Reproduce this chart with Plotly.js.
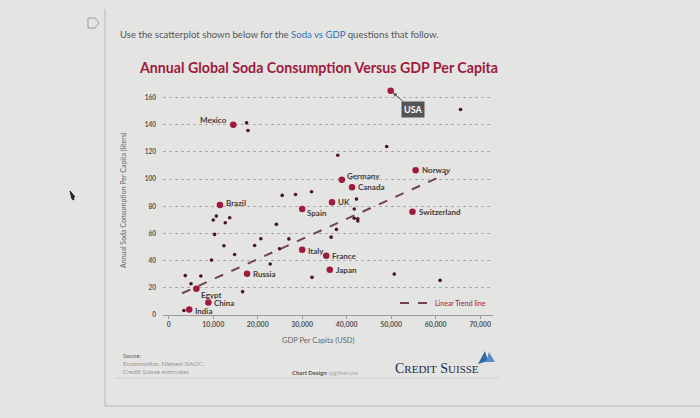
<!DOCTYPE html>
<html>
<head>
<meta charset="utf-8">
<script src="https://cdn.plot.ly/plotly-3.0.1.min.js"></script>
<style>
html,body{margin:0;padding:0;background:#e3e3e1;}
#chart{width:700px;height:418px;}
</style>
</head>
<body>
<div id="chart"></div>
<script>
// ---- Data ----
const labeledCountries = ['USA','Mexico','Germany','Canada','Norway','UK','Spain','Switzerland','Brazil','Italy','France','Japan','Russia','Egypt','China','India'];
const labeledGdp = [49900, 14500, 38900, 41200, 55500, 36700, 30000, 54800, 11500, 30000, 35400, 36200, 17600, 6200, 8900, 4600];
const labeledSoda = [165, 140, 99.5, 94, 106.5, 83, 78, 76, 81, 48, 43.6, 33.3, 30.4, 19.4, 9.2, 4];

const otherGdp = [17500, 17800, 65600, 49000, 38000, 25500, 28500, 32100, 42200, 41700, 41700, 42500, 42500, 37700, 36500, 27000, 24900, 22800, 24200, 20700, 19300, 14800, 12400, 10300, 9600, 10700, 10000, 13700, 12700, 3700, 7200, 5000, 16600, 3400, 32200, 50700, 61000];
const otherSoda = [141.4, 135.8, 151.2, 124, 117.6, 88, 88.7, 90.7, 85.3, 78, 71.2, 70.8, 69.2, 63, 57.3, 56, 48.8, 37.5, 66.7, 56.1, 51.2, 44.5, 51, 59.3, 40.4, 72.8, 69.9, 71.6, 67.9, 29, 28.7, 23, 17.2, 3.3, 27.7, 30.1, 25.5];

const trendGdp = [3000, 62500];
const trendSoda = [16, 104];

const xTickVals = [0, 10000, 20000, 30000, 40000, 50000, 60000, 70000];
const xTickText = ['0', '10,000', '20,000', '30,000', '40,000', '50,000', '60,000', '70,000'];
const yTickVals = [0, 20, 40, 60, 80, 100, 120, 140, 160];

// label offsets (style)
const labelStyle = {
  'USA':        null,
  'Mexico':     {xanchor:'right', xshift:-4, yshift:5},
  'Germany':    {xanchor:'left', xshift:3, yshift:4},
  'Canada':     {xanchor:'left', xshift:4, yshift:0},
  'Norway':     {xanchor:'left', xshift:4, yshift:0},
  'UK':         {xanchor:'left', xshift:4, yshift:0},
  'Spain':      {xanchor:'left', xshift:3, yshift:-4},
  'Switzerland':{xanchor:'left', xshift:4, yshift:0},
  'Brazil':     {xanchor:'left', xshift:4, yshift:2},
  'Italy':      {xanchor:'left', xshift:4, yshift:-1},
  'France':     {xanchor:'left', xshift:4, yshift:0},
  'Japan':      {xanchor:'left', xshift:4, yshift:0},
  'Russia':     {xanchor:'left', xshift:4, yshift:0},
  'Egypt':      {xanchor:'left', xshift:3, yshift:-6},
  'China':      {xanchor:'left', xshift:4, yshift:0},
  'India':      {xanchor:'left', xshift:4, yshift:-1}
};

// ---- Layout geometry ----
const W = 700, H = 418;
const L = 163, R = 207, T = 84, B = 103;
const PW = W - L - R, PH = H - T - B;
const px = x => (x - L) / PW;
const py = y => (H - B - y) / PH;
function pathFrom(pts) {
  return 'M ' + pts.map(p => px(p[0]).toFixed(4) + ' ' + py(p[1]).toFixed(4)).join(' L ') + ' Z';
}

const crimson = '#9e1b3d';
const dotSmall = '#4a1424';

const traces = [
  {
    x: trendGdp, y: trendSoda, mode: 'lines', name: 'Linear Trend line',
    line: {color: '#6e4550', width: 2, dash: 'dash'}, showlegend: true, hoverinfo: 'skip'
  },
  {
    x: otherGdp, y: otherSoda, mode: 'markers', showlegend: false,
    marker: {color: dotSmall, size: 3.6}
  },
  {
    x: labeledGdp, y: labeledSoda, mode: 'markers', showlegend: false, text: labeledCountries,
    marker: {color: crimson, size: 6.5}
  }
];

const annotations = [];
labeledCountries.forEach((c, i) => {
  const st = labelStyle[c];
  if (st) {
    annotations.push({
      x: labeledGdp[i], y: labeledSoda[i], xref: 'x', yref: 'y', text: c, showarrow: false,
      xanchor: st.xanchor, yanchor: 'middle', xshift: st.xshift, yshift: st.yshift,
      font: {family: 'Lato, sans-serif', size: 8, color: '#3d3d3d', weight: 'bold'}
    });
  } else {
    annotations.push({
      x: labeledGdp[i], y: labeledSoda[i], xref: 'x', yref: 'y', text: '<b>' + c + '</b>',
      showarrow: true, ax: 22, ay: 19, arrowhead: 2, arrowsize: 0.8, arrowwidth: 1, arrowcolor: '#555',
      standoff: 3, bgcolor: '#555555', borderpad: 2,
      font: {family: 'Lato, sans-serif', size: 9, color: '#ffffff'}
    });
  }
});

// page texts
annotations.push(
  {xref:'paper', yref:'paper', x: px(118), y: py(35), xanchor:'left', yanchor:'middle', showarrow:false,
   text: 'Use the scatterplot shown below for the <span style="color:#2f6fb3">Soda vs GDP</span> questions that follow.',
   font:{family:'Lato, sans-serif', size: 9.6, color:'#555'}},
  {xref:'paper', yref:'paper', x: px(318), y: py(68), xanchor:'center', yanchor:'middle', showarrow:false,
   text: '<b>Annual Global Soda Consumption Versus GDP Per Capita</b>',
   font:{family:'Lato, sans-serif', size: 14.2, color: crimson}},
  {xref:'paper', yref:'paper', x: px(123), y: py(200), xanchor:'center', yanchor:'middle', showarrow:false, textangle:-90,
   text: 'Annual Soda Consumption Per Capita (liters)',
   font:{family:'Lato, sans-serif', size: 7, color:'#666'}},
  {xref:'paper', yref:'paper', x: px(318), y: py(340), xanchor:'center', yanchor:'middle', showarrow:false,
   text: 'GDP Per Capita (USD)',
   font:{family:'Lato, sans-serif', size: 7.5, color:'#666'}},
  {xref:'paper', yref:'paper', x: px(121), y: py(356), xanchor:'left', yanchor:'middle', showarrow:false,
   text: 'Source:', font:{family:'Lato, sans-serif', size: 5.5, color:'#555'}},
  {xref:'paper', yref:'paper', x: px(121), y: py(367), xanchor:'left', yanchor:'middle', showarrow:false, align:'left',
   text: 'Euromonitor, Nielsen XAOC,<br>Credit Suisse estimates', font:{family:'Lato, sans-serif', size: 6.5, color:'#999'}},
  {xref:'paper', yref:'paper', x: px(290), y: py(372), xanchor:'left', yanchor:'middle', showarrow:false,
   text: '<b>Chart Design</b> <span style="color:#aaa">@gilberune</span>', font:{family:'Lato, sans-serif', size: 6, color:'#555'}},
  {xref:'paper', yref:'paper', x: px(393), y: py(368), xanchor:'left', yanchor:'middle', showarrow:false,
   text: 'C<span style="font-size:11px">REDIT</span> S<span style="font-size:11px">UISSE</span>',
   font:{family:'Liberation Serif, serif', size: 14, color:'#1c2a4e'}}
);

const shapes = [
  // frame
  {type:'line', xref:'paper', yref:'paper', x0:px(105), x1:px(105), y0:py(9), y1:py(406), line:{color:'#b8b8b6', width:1}},
  {type:'line', xref:'paper', yref:'paper', x0:px(105), x1:px(700), y0:py(406), y1:py(406), line:{color:'#b8b8b6', width:1}},
  // footer rule
  {type:'line', xref:'paper', yref:'paper', x0:px(115), x1:px(500), y0:py(378), y1:py(378), line:{color:'#d0d0ce', width:1}},
  // D icon
  {type:'path', xref:'paper', yref:'paper', path: pathFrom([[88,18],[95,18],[99,23],[95,28],[88,28]]), line:{color:'#9a9a9a', width:1}},
  // cursor
  {type:'path', xref:'paper', yref:'paper', path: pathFrom([[70,191],[75,197],[73,197],[74,200],[72,199]]), fillcolor:'#222', line:{color:'#222', width:1}},
  // sail logo
  {type:'path', xref:'paper', yref:'paper', path: pathFrom([[478,364],[485,351],[488,361]]), fillcolor:'#2d6aa8', line:{width:0}},
  {type:'path', xref:'paper', yref:'paper', path: pathFrom([[486,362],[489,352],[495,362]]), fillcolor:'#5b8fc4', line:{width:0}}
];

const layout = {
  width: W, height: H,
  margin: {l: L, r: R, t: T, b: B, pad: 0},
  paper_bgcolor: '#e4e4e2',
  plot_bgcolor: 'rgba(0,0,0,0)',
  font: {family: 'Lato, sans-serif', color: '#555'},
  showlegend: true,
  legend: {x: px(395), y: py(303), xanchor: 'left', yanchor: 'middle', bgcolor: 'rgba(0,0,0,0)',
           font: {size: 7, color: crimson}, itemwidth: 30},
  xaxis: {
    range: [-1300, 72900], tickvals: xTickVals, ticktext: xTickText,
    showgrid: false, zeroline: false, showline: true, linecolor: '#999', linewidth: 1,
    ticks: 'outside', ticklen: 3, tickcolor: '#999',
    tickfont: {size: 7, color: '#555', weight: 'bold'}
  },
  yaxis: {
    range: [0, 170], tickvals: yTickVals,
    showgrid: true, gridcolor: '#ababab', griddash: 'dot', gridwidth: 1,
    zeroline: false, showline: false, ticks: '', ticklabelstandoff: 6,
    tickfont: {size: 6.5, color: '#555', weight: 'bold'}
  },
  annotations: annotations,
  shapes: shapes
};

Plotly.newPlot('chart', traces, layout, {displayModeBar: false, staticPlot: true});
</script>
</body>
</html>
